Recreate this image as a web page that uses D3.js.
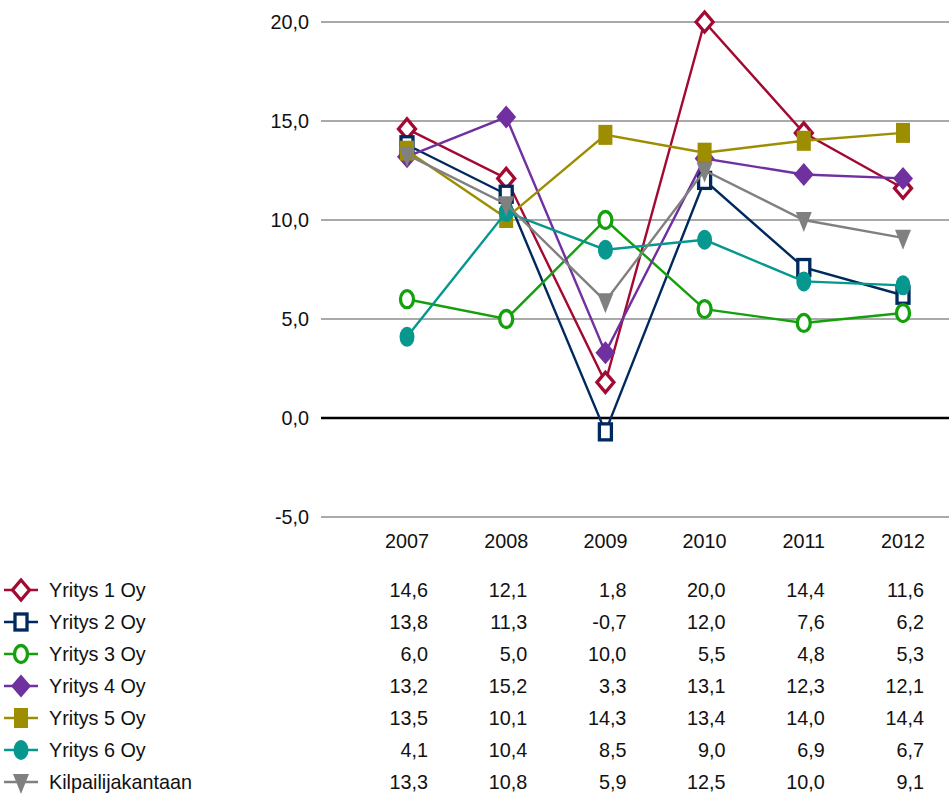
<!DOCTYPE html>
<html><head><meta charset="utf-8">
<script src="https://cdn.jsdelivr.net/npm/d3@7/dist/d3.min.js"></script>
<style>body{margin:0;background:#fff}svg{display:block}text{font-family:"Liberation Sans",Arial,sans-serif;fill:#111}</style>
</head><body>
<script>
const years = ["2007","2008","2009","2010","2011","2012"];
const seriesNames = ["Yritys 1 Oy","Yritys 2 Oy","Yritys 3 Oy","Yritys 4 Oy","Yritys 5 Oy","Yritys 6 Oy","Kilpailijakantaan"];
const yritys1 = [14.6,12.1,1.8,20.0,14.4,11.6];
const yritys2 = [13.8,11.3,-0.7,12.0,7.6,6.2];
const yritys3 = [6.0,5.0,10.0,5.5,4.8,5.3];
const yritys4 = [13.2,15.2,3.3,13.1,12.3,12.1];
const yritys5 = [13.5,10.1,14.3,13.4,14.0,14.4];
const yritys6 = [4.1,10.4,8.5,9.0,6.9,6.7];
const kilpailija = [13.3,10.8,5.9,12.5,10.0,9.1];
const yTicks = [-5,0,5,10,15,20];
const colors = ["#a30a32","#00295e","#14a00c","#7030a0","#9c8e00","#06978f","#808080"];
const shapes = ["diamondHollow","squareHollow","circleHollow","diamond","square","circle","triangle"];
const allValues = [yritys1,yritys2,yritys3,yritys4,yritys5,yritys6,kilpailija];

const W=949,H=794;
const svg=d3.select("body").append("svg").attr("width",W).attr("height",H);
const x=d3.scalePoint().domain(years).range([407,903]);
const y=d3.scaleLinear().domain([-5,20]).range([517,22]);
const fmt=v=>d3.format(".1f")(v).replace(".",",").replace("−","-");
const FS=19.8;

svg.append("g").selectAll("line").data(yTicks).join("line")
 .attr("x1",321).attr("x2",W).attr("y1",d=>y(d)).attr("y2",d=>y(d))
 .attr("stroke",d=>d===0?"#000":"#8c8c8c").attr("stroke-width",d=>d===0?2.6:1.3);
svg.append("g").selectAll("text").data(yTicks).join("text")
 .attr("x",309).attr("y",d=>y(d)+7).attr("text-anchor","end").attr("font-size",FS).text(fmt);
svg.append("g").selectAll("text").data(years).join("text")
 .attr("x",d=>x(d)).attr("y",548).attr("text-anchor","middle").attr("font-size",FS).text(d=>d);

function marker(g,shape,color,cx,cy){
  if(shape==="diamondHollow"){
    g.append("path").attr("d",`M${cx},${cy-10}L${cx+8.5},${cy}L${cx},${cy+10}L${cx-8.5},${cy}Z`)
     .attr("fill","#fff").attr("stroke",color).attr("stroke-width",3.3);
  } else if(shape==="diamond"){
    g.append("path").attr("d",`M${cx},${cy-11.5}L${cx+10},${cy}L${cx},${cy+11.5}L${cx-10},${cy}Z`).attr("fill",color);
  } else if(shape==="squareHollow"){
    g.append("rect").attr("x",cx-6).attr("y",cy-8).attr("width",12).attr("height",16)
     .attr("fill","#fff").attr("stroke",color).attr("stroke-width",3.3);
  } else if(shape==="square"){
    g.append("rect").attr("x",cx-7).attr("y",cy-10).attr("width",14).attr("height",20).attr("fill",color);
  } else if(shape==="circleHollow"){
    g.append("ellipse").attr("cx",cx).attr("cy",cy).attr("rx",6.5).attr("ry",8.5)
     .attr("fill","#fff").attr("stroke",color).attr("stroke-width",3.3);
  } else if(shape==="circle"){
    g.append("ellipse").attr("cx",cx).attr("cy",cy).attr("rx",7.5).attr("ry",10).attr("fill",color);
  } else if(shape==="triangle"){
    g.append("path").attr("d",`M${cx-8},${cy-8}L${cx+8},${cy-8}L${cx},${cy+12}Z`).attr("fill",color);
  }
}

const line=d3.line().x((d,i)=>x(years[i])).y(d=>y(d));
allValues.forEach((vals,si)=>{
  const g=svg.append("g");
  g.append("path").datum(vals).attr("d",line).attr("fill","none").attr("stroke",colors[si]).attr("stroke-width",2.4);
  vals.forEach((v,i)=>marker(g,shapes[si],colors[si],x(years[i]),y(v)));
});

const rowY=d3.scalePoint().domain(seriesNames).range([590,782]);
seriesNames.forEach((name,si)=>{
  const cy=rowY(name);
  const g=svg.append("g");
  g.append("line").attr("x1",4).attr("x2",38).attr("y1",cy).attr("y2",cy).attr("stroke",colors[si]).attr("stroke-width",2.4);
  marker(g,shapes[si],colors[si],21,cy);
  g.append("text").attr("x",49).attr("y",cy+7).attr("font-size",FS).text(name);
  allValues[si].forEach((v,i)=>{
    g.append("text").attr("x",x(years[i])+21).attr("y",cy+7).attr("text-anchor","end").attr("font-size",FS).text(fmt(v));
  });
});
</script>
</body></html>
